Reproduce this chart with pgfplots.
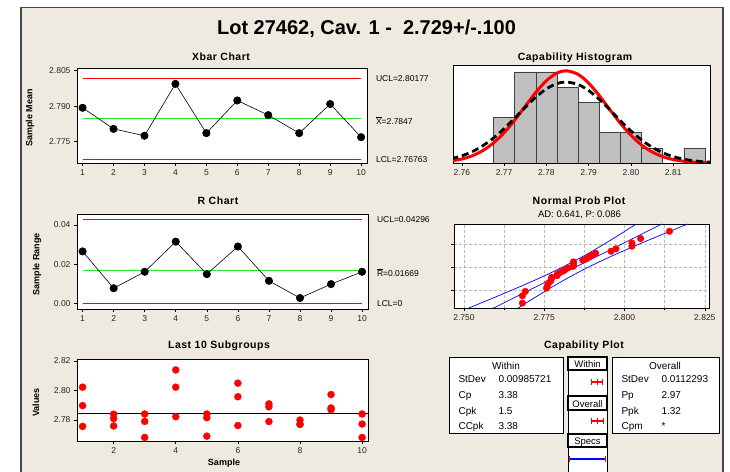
\documentclass[border=0pt]{standalone}
\usepackage{pgfplots}
\pgfplotsset{compat=1.18}
\usepackage{fontspec}
\setmainfont{Liberation Sans}
\newfontfamily\ptitle[LetterSpace=5]{Liberation Sans}
\definecolor{bg}{RGB}{238,234,224}
\definecolor{barfill}{RGB}{192,192,192}
\definecolor{cgreen}{RGB}{40,230,40}
\definecolor{framec}{RGB}{70,70,70}
\newcommand{\fs}[1]{\fontsize{#1}{#1}\selectfont}

\pgfplotstableread{
x y
1 2.8023
1 2.7898
1 2.7757
2 2.7840
2 2.7810
2 2.7760
3 2.7841
3 2.7791
3 2.7682
4 2.8140
4 2.8023
4 2.7823
5 2.7841
5 2.7816
5 2.7691
6 2.8050
6 2.7958
6 2.7763
7 2.7910
7 2.7890
7 2.7790
8 2.7800
8 2.7772
8 2.7770
9 2.7973
9 2.7882
9 2.7870
10 2.7841
10 2.7773
10 2.7682
}\subgroups

\pgfplotstableread{
x z
2.7682 -1.995
2.7682 -1.590
2.7691 -1.348
2.7757 -1.167
2.7760 -1.017
2.7763 -0.887
2.7770 -0.771
2.7772 -0.664
2.7773 -0.565
2.7790 -0.470
2.7791 -0.380
2.7800 -0.293
2.7810 -0.207
2.7816 -0.124
2.7823 -0.041
2.7840 0.041
2.7841 0.124
2.7841 0.207
2.7841 0.293
2.7870 0.380
2.7882 0.470
2.7890 0.565
2.7898 0.664
2.7910 0.771
2.7958 0.887
2.7973 1.017
2.8023 1.167
2.8023 1.348
2.8050 1.590
2.8140 1.995
}\probpts

\begin{document}
\begin{tikzpicture}[x=1pt,y=1pt]
\path[use as bounding box] (0pt,0pt) rectangle (730pt,471pt);
\fill[white] (0pt,0pt) rectangle (730pt,471pt);
\fill[bg] (21pt,-2pt) rectangle (723pt,463.5pt);
\draw[framec, line width=1.2pt] (21pt,-2pt) -- (21pt,463.5pt) -- (723pt,463.5pt) -- (723pt,-2pt);

\pgfplotsset{
  mini/.style={
    scale only axis,
    anchor=south west,
    axis background/.style={fill=white},
    axis line style={black, line width=0.9pt},
    tick align=outside,
    tick pos=left,
    major tick length=3pt,
    minor tick length=2pt,
    tick style={black, line width=0.6pt},
    tick label style={font=\fs{8.5}, text=black!85},
    scaled ticks=false,
  }
}

% ---------- Xbar chart ----------
\begin{axis}[mini, at={(77pt,308pt)}, width=290pt, height=95pt,
  xmin=0.82, xmax=10.19, ymin=2.766, ymax=2.8061,
  xtick={1,2,3,4,5,6,7,8,9,10}, xticklabels={1,2,3,4,5,6,7,8,9,10},
  ytick={2.775,2.790,2.805}, yticklabels={2.775,2.790,2.805}, clip=false]
\addplot[red, line width=0.9pt] coordinates {(1,2.80177)(10,2.80177)};
\addplot[cgreen, line width=0.9pt] coordinates {(1,2.7847)(10,2.7847)};
\addplot[red, line width=0.9pt] coordinates {(1,2.76763)(10,2.76763)};
\addplot[black, line width=0.6pt, mark=*, mark size=3.7pt, mark options={fill=black}] coordinates {
(1,2.7893)(2,2.7804)(3,2.7775)(4,2.7994)(5,2.7786)(6,2.7924)(7,2.7862)(8,2.7786)(9,2.7909)(10,2.7769)};
\node[anchor=west, xshift=5.5pt, font=\fs{8.5}] at (axis cs:10.19,2.80177) {UCL=2.80177};
\node[anchor=west, xshift=5.5pt, yshift=-2pt, font=\fs{8.5}] at (axis cs:10.19,2.7847) {$\overline{\mbox{X}}$=2.7847};
\node[anchor=west, xshift=5.5pt, font=\fs{8.5}] at (axis cs:10.19,2.76763) {LCL=2.76763};
\end{axis}

% ---------- R chart ----------
\begin{axis}[mini, at={(77pt,162pt)}, width=291pt, height=95pt,
  xmin=0.82, xmax=10.19, ymin=-0.0029, ymax=0.0456,
  xtick={1,2,3,4,5,6,7,8,9,10}, xticklabels={1,2,3,4,5,6,7,8,9,10},
  ytick={0,0.02,0.04}, yticklabels={0.00,0.02,0.04}, clip=false]
\addplot[red, line width=0.9pt] coordinates {(1,0.04296)(10,0.04296)};
\addplot[cgreen, line width=0.9pt] coordinates {(1,0.01669)(10,0.01669)};
\addplot[red, line width=0.9pt] coordinates {(1,0)(10,0)};
\addplot[black, line width=0.6pt, mark=*, mark size=3.7pt, mark options={fill=black}] coordinates {
(1,0.0265)(2,0.0077)(3,0.0161)(4,0.0315)(5,0.0149)(6,0.0290)(7,0.0115)(8,0.0027)(9,0.0098)(10,0.0161)};
\node[anchor=west, xshift=5.5pt, font=\fs{8.5}] at (axis cs:10.19,0.04296) {UCL=0.04296};
\node[anchor=west, xshift=5.5pt, yshift=-2pt, font=\fs{8.5}] at (axis cs:10.19,0.01669) {$\overline{\mbox{R}}$=0.01669};
\node[anchor=west, xshift=5.5pt, yshift=-0.5pt, font=\fs{8.5}] at (axis cs:10.19,0) {LCL=0};
\end{axis}

% ---------- Last 10 subgroups ----------
\begin{axis}[mini, at={(77pt,30pt)}, width=291pt, height=82pt,
  xmin=0.82, xmax=10.19, ymin=2.7658, ymax=2.8214,
  xtick={2,4,6,8,10}, xticklabels={2,4,6,8,10},
  ytick={2.78,2.80,2.82}, yticklabels={2.78,2.80,2.82}]
\addplot[black, line width=0.7pt] coordinates {(0.82,2.7847)(10.19,2.7847)};
\addplot[only marks, mark=*, mark size=3.5pt, red, mark options={fill=red, draw=red}] table[x=x, y=y] {\subgroups};
\end{axis}

% ---------- Capability histogram ----------
\begin{axis}[mini, at={(453pt,308pt)}, width=257pt, height=98pt,
  xmin=2.7579, xmax=2.8187, ymin=0, ymax=6.45,
  xtick={2.76,2.77,2.78,2.79,2.80,2.81}, xticklabels={2.76,2.77,2.78,2.79,2.80,2.81},
  ytick=\empty]
\addplot[ybar, bar width=0.005, bar shift=0pt, fill=barfill, draw=black!75, line width=0.6pt] coordinates {
(2.770,3)(2.775,6)(2.780,6)(2.785,5)(2.790,4)(2.795,2)(2.800,2)(2.805,1)(2.815,1)};
\addplot[red, line width=3pt, smooth] coordinates {
(2.7575,0.1349)(2.7600,0.2629)(2.7625,0.4806)(2.7650,0.8241)(2.7675,1.3248)(2.7700,1.9966)
(2.7725,2.8226)(2.7750,3.7410)(2.7775,4.6493)(2.7800,5.4186)(2.7825,5.9217)(2.7847,6.0710)
(2.7875,5.8307)(2.7900,5.2537)(2.7925,4.4391)(2.7950,3.5169)(2.7975,2.6127)(2.8000,1.8199)
(2.8025,1.1889)(2.8050,0.7283)(2.8075,0.4183)(2.8100,0.2253)(2.8125,0.1138)(2.8150,0.0539)
(2.8175,0.0239)(2.8190,0.0140)};
\addplot[black, line width=2.8pt, dash pattern=on 7pt off 4pt, smooth] coordinates {
(2.7575,0.2836)(2.7600,0.4743)(2.7625,0.7549)(2.7650,1.1439)(2.7675,1.6488)(2.7700,2.2620)
(2.7725,2.9534)(2.7750,3.6697)(2.7775,4.3388)(2.7800,4.8821)(2.7825,5.2277)(2.7847,5.3290)
(2.7875,5.1658)(2.7900,4.7673)(2.7925,4.1868)(2.7950,3.4989)(2.7975,2.7828)(2.8000,2.1064)
(2.8025,1.5172)(2.8050,1.0399)(2.8075,0.6783)(2.8100,0.4210)(2.8125,0.2487)(2.8150,0.1399)
(2.8175,0.0749)(2.8190,0.0545)};
\end{axis}

% ---------- Normal probability plot ----------
\begin{axis}[mini, at={(454pt,163pt)}, width=255pt, height=84pt,
  xmin=2.7469, xmax=2.8263, ymin=-2.27, ymax=2.40,
  xtick={2.750,2.775,2.800,2.825}, xticklabels={2.750,2.775,2.800,2.825},
  minor xtick={2.7625,2.7875,2.8125},
  ytick={-1.2816,0,1.2816}, yticklabels={,,},
  grid=both, grid style={densely dashed, gray!55, line width=0.5pt},
  minor grid style={densely dashed, gray!55, line width=0.5pt}]
\addplot[blue, line width=0.7pt, smooth] coordinates {
(2.75111,-2.3)(2.75520,-2)(2.76195,-1.5)(2.76852,-1)(2.77482,-0.5)(2.78068,0)
(2.78604,0.5)(2.79098,1)(2.79563,1.5)(2.80012,2)(2.80363,2.4)};
\addplot[blue, line width=0.7pt] coordinates {(2.75887,-2.3)(2.81165,2.4)};
\addplot[blue, line width=0.7pt, smooth] coordinates {
(2.76664,-2.3)(2.76928,-2)(2.77377,-1.5)(2.77842,-1)(2.78336,-0.5)(2.78872,0)
(2.79458,0.5)(2.80088,1)(2.80745,1.5)(2.81420,2)(2.81967,2.4)};
\addplot[only marks, mark=*, mark size=3.3pt, red, mark options={fill=red, draw=red}] table[x=x, y=z] {\probpts};
\end{axis}

% ---------- Capability plot boxes ----------
\draw[black, line width=0.9pt, fill=white] (449pt,114pt) rectangle (563pt,38pt);
\draw[black, line width=0.9pt, fill=white] (612pt,114pt) rectangle (719pt,38pt);
\fill[white] (568pt,-2pt) rectangle (607pt,114pt);
\draw[black, line width=0.8pt] (568pt,-2pt) -- (568pt,114pt) -- (607pt,114pt) -- (607pt,-2pt);
\draw[black, line width=1.4pt, fill=white] (568pt,114pt) rectangle (607pt,101pt);
\draw[black, line width=1.4pt, fill=white] (568pt,75pt) rectangle (607pt,61pt);
\draw[black, line width=1.4pt, fill=white] (568pt,37pt) rectangle (607pt,24pt);
\node[anchor=base, font=\fs{9.5}] at (587.5pt,103.7pt) {Within};
\node[anchor=base, font=\fs{9.5}] at (587.5pt,63.7pt) {Overall};
\node[anchor=base, font=\fs{9.5}] at (587.5pt,27pt) {Specs};

\begin{axis}[at={(569pt,0pt)}, anchor=south west, scale only axis, width=36pt, height=114pt,
  xmin=2.629, xmax=2.829, ymin=-471, ymax=-357, hide axis, clip=false]
\addplot[red, line width=1.1pt, mark=|, mark size=2.6pt, mark options={line width=0.9pt}] coordinates {(2.7551,-382)(2.7847,-382)(2.8143,-382)};
\addplot[red, line width=1.1pt, mark=|, mark size=2.6pt, mark options={line width=0.9pt}] coordinates {(2.7510,-421)(2.7847,-421)(2.8184,-421)};
\addplot[blue, line width=1.2pt] coordinates {(2.629,-459)(2.829,-459)};
\addplot[only marks, red, mark=|, mark size=3pt, mark options={line width=1pt, draw=red}] coordinates {(2.629,-459)(2.829,-459)};
\end{axis}

% Within stats
\node[anchor=base, font=\fs{10}] at (506pt,101.5pt) {Within};
\node[anchor=base west, font=\fs{10}] at (455pt,88.3pt) {StDev};
\node[anchor=base west, font=\fs{10}] at (495pt,88.3pt) {0.00985721};
\node[anchor=base west, font=\fs{10}] at (455pt,72.7pt) {Cp};
\node[anchor=base west, font=\fs{10}] at (495pt,72.7pt) {3.38};
\node[anchor=base west, font=\fs{10}] at (455pt,56.7pt) {Cpk};
\node[anchor=base west, font=\fs{10}] at (495pt,56.7pt) {1.5};
\node[anchor=base west, font=\fs{10}] at (455pt,41.7pt) {CCpk};
\node[anchor=base west, font=\fs{10}] at (495pt,41.7pt) {3.38};
% Overall stats
\node[anchor=base, font=\fs{10}] at (665pt,101.5pt) {Overall};
\node[anchor=base west, font=\fs{10}] at (618pt,88.3pt) {StDev};
\node[anchor=base west, font=\fs{10}] at (658pt,88.3pt) {0.0112293};
\node[anchor=base west, font=\fs{10}] at (618pt,72.7pt) {Pp};
\node[anchor=base west, font=\fs{10}] at (658pt,72.7pt) {2.97};
\node[anchor=base west, font=\fs{10}] at (618pt,56.7pt) {Ppk};
\node[anchor=base west, font=\fs{10}] at (658pt,56.7pt) {1.32};
\node[anchor=base west, font=\fs{10}] at (618pt,41.7pt) {Cpm};
\node[anchor=base west, font=\fs{10}] at (658pt,41.7pt) {*};

% ---------- Titles and labels ----------
\node[anchor=base, font=\bfseries\fs{20}] at (366.5pt,436pt) {Lot 27462, Cav. 1 -\ \ 2.729+/-.100};
\node[anchor=base, font=\ptitle\bfseries\fs{10.5}] at (221pt,410.5pt) {Xbar Chart};
\node[anchor=base, font=\ptitle\bfseries\fs{10.5}] at (218pt,266pt) {R Chart};
\node[anchor=base, font=\ptitle\bfseries\fs{10.5}] at (219pt,122pt) {Last 10 Subgroups};
\node[anchor=base, font=\ptitle\bfseries\fs{10.5}] at (575pt,410pt) {Capability Histogram};
\node[anchor=base, font=\ptitle\bfseries\fs{10.5}] at (579pt,266pt) {Normal Prob Plot};
\node[anchor=base, font=\fs{9.5}] at (579.5pt,253.3pt) {AD: 0.641, P: 0.086};
\node[anchor=base, font=\ptitle\bfseries\fs{10.5}] at (584pt,122pt) {Capability Plot};
\node[anchor=base, font=\bfseries\fs{9}] at (224pt,5.3pt) {Sample};
\node[rotate=90, font=\bfseries\fs{9}] at (30pt,353pt) {Sample Mean};
\node[rotate=90, font=\bfseries\fs{9}] at (37pt,207pt) {Sample Range};
\node[rotate=90, font=\bfseries\fs{9}] at (36pt,68.5pt) {Values};
\end{tikzpicture}
\end{document}
